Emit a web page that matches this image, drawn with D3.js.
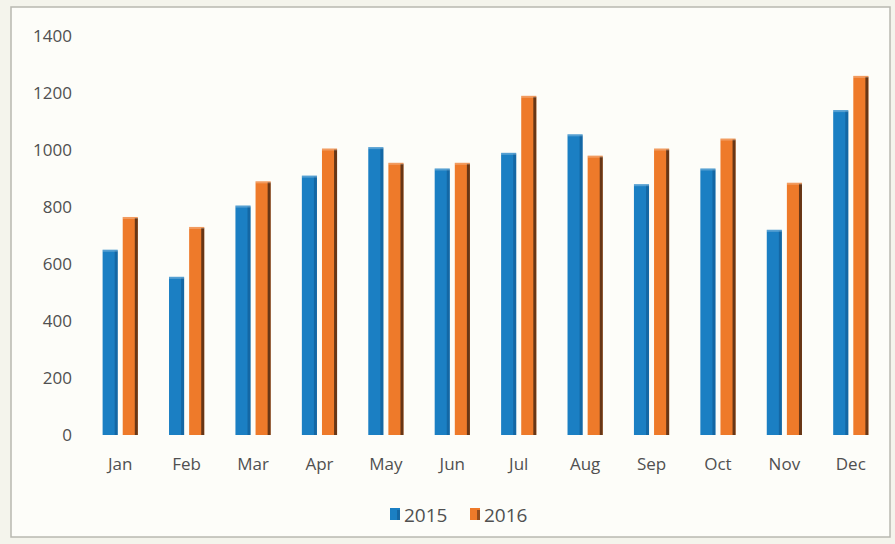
<!DOCTYPE html>
<html><head><meta charset="utf-8">
<script src="https://cdn.jsdelivr.net/npm/d3@7"></script>
<style>body{margin:0;background:#fbfbf6;}svg{display:block;}</style>
</head><body>
<script>
const categories = ["Jan","Feb","Mar","Apr","May","Jun","Jul","Aug","Sep","Oct","Nov","Dec"];
const seriesNames = ["2015","2016"];
const values2015 = [650,555,805,910,1010,935,990,1055,880,935,720,1140];
const values2016 = [765,730,890,1005,955,955,1190,980,1005,1040,885,1260];
const yTicks = [0,200,400,600,800,1000,1200,1400];
const colors = ["#1b7fc3","#ee7a2a"];
const edgeColors = ["#0e4f86","#3a2010"];

const W=895,H=544;
const svg=d3.select("body").append("svg").attr("width",W).attr("height",H);
svg.append("rect").attr("x",0).attr("y",0).attr("width",W).attr("height",H).attr("fill","#f4f4ec");
svg.append("rect").attr("x",11).attr("y",7).attr("width",879).attr("height",530)
  .attr("fill","#fdfdf9").attr("stroke","#b8b8b0").attr("stroke-width",1.5);

const x=d3.scaleBand().domain(categories).range([87,884]).paddingInner(0.47).paddingOuter(0.235);
const x1=d3.scaleBand().domain(seriesNames).range([0,x.bandwidth()]).paddingInner(0.25);
const y=d3.scaleLinear().domain([0,1400]).range([435,36]);

const yAxis=svg.append("g").attr("transform","translate(72,0)")
  .call(d3.axisLeft(y).tickValues(yTicks).tickFormat(d3.format("d")).tickSize(0).tickPadding(0));
yAxis.select(".domain").remove();
yAxis.selectAll("text").attr("font-family","Open Sans, sans-serif").attr("font-size",17).attr("fill","#505050");

const xAxis=svg.append("g").attr("transform","translate(0,458)")
  .call(d3.axisBottom(x).tickSize(0).tickPadding(0));
xAxis.select(".domain").remove();
xAxis.selectAll("text").attr("font-family","Open Sans, sans-serif").attr("font-size",17).attr("fill","#505050");

const data=categories.map((c,i)=>({c,vals:[values2015[i],values2016[i]]}));
const g=svg.append("g").selectAll("g").data(data).join("g")
  .attr("transform",d=>`translate(${x(d.c)},0)`);
seriesNames.forEach((s,si)=>{
  const bw=x1.bandwidth();
  g.append("rect").attr("x",x1(s)).attr("y",d=>y(d.vals[si])).attr("width",bw)
    .attr("height",d=>y(0)-y(d.vals[si])).attr("fill",colors[si]);
  g.append("rect").attr("x",x1(s)+bw-3).attr("y",d=>y(d.vals[si])+1).attr("width",3)
    .attr("height",d=>y(0)-y(d.vals[si])-1).attr("fill",edgeColors[si]).attr("opacity",si?0.75:0.5);
  g.append("rect").attr("x",x1(s)).attr("y",d=>y(d.vals[si])).attr("width",bw)
    .attr("height",2).attr("fill","#fff").attr("opacity",0.25);
});

const leg=svg.append("g").attr("transform","translate(390,515)");
const legX=[0,80];
seriesNames.forEach((s,i)=>{
  leg.append("rect").attr("x",legX[i]).attr("y",-7).attr("width",10).attr("height",12).attr("fill",colors[i]);
  leg.append("rect").attr("x",legX[i]+7).attr("y",-5).attr("width",3).attr("height",10).attr("fill",edgeColors[i]).attr("opacity",0.5);
  leg.append("text").attr("x",legX[i]+14).attr("y",0).attr("dy","0.35em").text(s)
    .attr("font-family","Open Sans, sans-serif").attr("font-size",19).attr("fill","#505050");
});
</script>
</body></html>
